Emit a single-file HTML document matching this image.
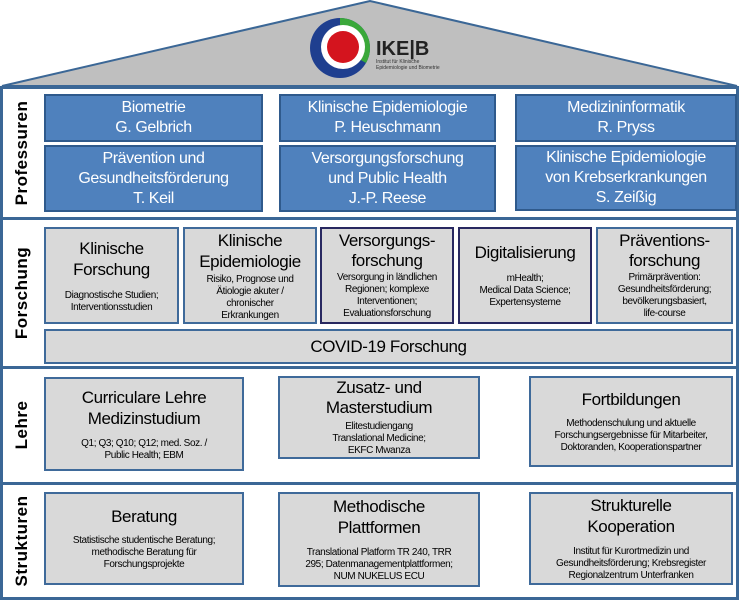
<!DOCTYPE html>
<html><head><meta charset="utf-8"><style>
body{margin:0;width:739px;height:600px;background:#fff;position:relative;overflow:hidden;font-family:"Liberation Sans",Arial,sans-serif;}
.b{position:absolute;box-sizing:border-box;display:flex;flex-direction:column;align-items:center;justify-content:center;text-align:center;letter-spacing:-0.4px;}
.p{background:#4f81bd;border:2px solid #2f5a8c;color:#fff;font-size:16px;line-height:20px;}
.g{background:#d9d9d9;border:2px solid #3f6a9a;color:#000;}
.d{border-color:#282860;}
.t{font-size:17px;line-height:21px;}
.s{font-size:10px;line-height:12px;margin-top:6px;}
.sec{position:absolute;left:0;width:739px;box-sizing:border-box;border:3px solid #3b6796;}
.lab{position:absolute;left:22px;transform:translate(-50%,-50%) rotate(-90deg);font-weight:bold;font-size:17px;letter-spacing:0.5px;white-space:nowrap;}
</style></head><body>
<svg style="position:absolute;left:0;top:0" width="739" height="90">
<polygon points="2,86 370,1 737,86" fill="#bfbfbf" stroke="#3b6796" stroke-width="2"/>
<circle cx="340" cy="48" r="30" fill="#1f3f8f"/>
<path d="M340,18 A30,30 0 0 1 366,63 L352,55 A16,16 0 0 0 340,32 Z" fill="#3aa83a"/>
<circle cx="343" cy="47" r="22" fill="#fff"/>
<circle cx="343" cy="47" r="16" fill="#d4141e"/>
<text x="376" y="55" font-family="Liberation Sans" font-weight="bold" font-size="20" fill="#222">IKE|B</text>
<text x="376" y="63" font-family="Liberation Sans" font-size="5" fill="#333">Institut für Klinische</text>
<text x="376" y="69" font-family="Liberation Sans" font-size="5" fill="#333">Epidemiologie und Biometrie</text>
</svg>
<div class="sec" style="top:86px;height:134px"></div>
<div class="sec" style="top:217px;height:152px"></div>
<div class="sec" style="top:366px;height:119px"></div>
<div class="sec" style="top:482px;height:118px"></div>
<div class="lab" style="top:153px">Professuren</div>
<div class="lab" style="top:293px">Forschung</div>
<div class="lab" style="top:425px">Lehre</div>
<div class="lab" style="top:541px">Strukturen</div>

<div class="b p" style="left:44px;top:94px;width:219px;height:48px">Biometrie<br>G. Gelbrich</div>
<div class="b p" style="left:279px;top:94px;width:217px;height:48px">Klinische Epidemiologie<br>P. Heuschmann</div>
<div class="b p" style="left:515px;top:94px;width:222px;height:48px">Medizininformatik<br>R. Pryss</div>
<div class="b p" style="left:44px;top:145px;width:219px;height:67px">Prävention und<br>Gesundheitsförderung<br>T. Keil</div>
<div class="b p" style="left:279px;top:145px;width:217px;height:67px">Versorgungsforschung<br>und Public Health<br>J.-P. Reese</div>
<div class="b p" style="left:515px;top:145px;width:222px;height:66px">Klinische Epidemiologie<br>von Krebserkrankungen<br>S. Zeißig</div>

<div class="b g" style="left:44px;top:227px;width:135px;height:97px"><div class="t">Klinische<br>Forschung</div><div class="s" style="margin-top:10px">Diagnostische Studien;<br>Interventionsstudien</div></div>
<div class="b g" style="left:183px;top:227px;width:134px;height:97px"><div class="t">Klinische<br>Epidemiologie</div><div class="s" style="margin-top:2px">Risiko, Prognose und<br>Ätiologie akuter /<br>chronischer<br>Erkrankungen</div></div>
<div class="b g d" style="left:320px;top:227px;width:134px;height:97px"><div class="t" style="line-height:20px">Versorgungs-<br>forschung</div><div class="s" style="margin-top:1px">Versorgung in ländlichen<br>Regionen; komplexe<br>Interventionen;<br>Evaluationsforschung</div></div>
<div class="b g d" style="left:458px;top:227px;width:134px;height:97px"><div class="t">Digitalisierung</div><div class="s" style="margin-top:10px">mHealth;<br>Medical Data Science;<br>Expertensysteme</div></div>
<div class="b g" style="left:596px;top:227px;width:137px;height:97px"><div class="t" style="line-height:20px">Präventions-<br>forschung</div><div class="s" style="margin-top:1px">Primärprävention:<br>Gesundheitsförderung;<br>bevölkerungsbasiert,<br>life-course</div></div>
<div class="b g" style="left:44px;top:329px;width:689px;height:35px"><div class="t">COVID-19 Forschung</div></div>

<div class="b g" style="left:44px;top:377px;width:200px;height:94px"><div class="t">Curriculare Lehre<br>Medizinstudium</div><div class="s" style="margin-top:9px">Q1; Q3; Q10; Q12; med. Soz. /<br>Public Health; EBM</div></div>
<div class="b g" style="left:278px;top:376px;width:202px;height:83px"><div class="t" style="line-height:20px">Zusatz- und<br>Masterstudium</div><div class="s" style="margin-top:3px">Elitestudiengang<br>Translational Medicine;<br>EKFC Mwanza</div></div>
<div class="b g" style="left:529px;top:376px;width:204px;height:91px"><div class="t">Fortbildungen</div><div class="s" style="margin-top:8px">Methodenschulung und aktuelle<br>Forschungsergebnisse für Mitarbeiter,<br>Doktoranden, Kooperationspartner</div></div>

<div class="b g" style="left:44px;top:492px;width:200px;height:93px"><div class="t">Beratung</div><div class="s" style="margin-top:8px">Statistische studentische Beratung;<br>methodische Beratung für<br>Forschungsprojekte</div></div>
<div class="b g" style="left:278px;top:492px;width:202px;height:95px"><div class="t">Methodische<br>Plattformen</div><div class="s" style="margin-top:9px">Translational Platform TR 240, TRR<br>295; Datenmanagementplattformen;<br>NUM NUKELUS ECU</div></div>
<div class="b g" style="left:529px;top:492px;width:204px;height:93px"><div class="t">Strukturelle<br>Kooperation</div><div class="s" style="margin-top:9px">Institut für Kurortmedizin und<br>Gesundheitsförderung; Krebsregister<br>Regionalzentrum Unterfranken</div></div>
</body></html>
